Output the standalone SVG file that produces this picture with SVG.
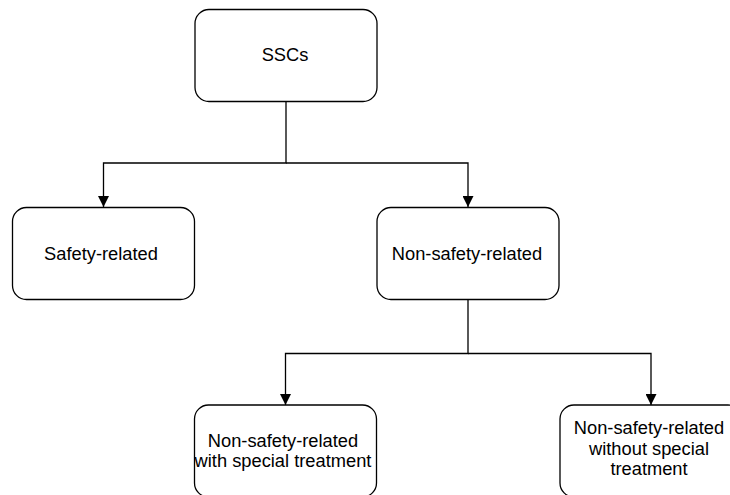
<svg xmlns="http://www.w3.org/2000/svg" width="730" height="495" viewBox="0 0 730 495">
<defs>
<style>
.box{fill:#fff;stroke:#000;stroke-width:1.3}
.lbl{font-family:"Liberation Sans",Arial,Helvetica,sans-serif;font-size:18.3px;fill:#000;text-anchor:middle}
.edge{fill:none;stroke:#000;stroke-width:1.3}
</style>
<marker id="arr" viewBox="0 0 10 10" refX="10" refY="5" markerWidth="11" markerHeight="11" markerUnits="userSpaceOnUse" orient="auto">
<path d="M0,0 L10,5 L0,10 Z" fill="#000"/>
</marker>
</defs>
<rect width="730" height="495" fill="#fff"/>
<g id="connectors">
<path class="edge" d="M286,101 V163 H103.5 V207" marker-end="url(#arr)"/>
<path class="edge" d="M286,163 H468 V207" marker-end="url(#arr)"/>
<path class="edge" d="M468,299.5 V353.5 H285.5 V405" marker-end="url(#arr)"/>
<path class="edge" d="M468,353.5 H651 V405" marker-end="url(#arr)"/>
</g>
<g id="ssc">
<rect class="box" x="195" y="9.5" width="182" height="92" rx="14"/>
<text class="lbl" x="285" y="61">SSCs</text>
</g>
<g id="safety">
<rect class="box" x="12.5" y="207.5" width="182" height="92" rx="14"/>
<text class="lbl" x="101" y="260">Safety-related</text>
</g>
<g id="nonsafety">
<rect class="box" x="377" y="207.5" width="182" height="92" rx="14"/>
<text class="lbl" x="467" y="260">Non-safety-related</text>
</g>
<g id="nsr-with">
<rect class="box" x="194.5" y="405" width="182" height="92" rx="14"/>
<text class="lbl" x="283" y="447">Non-safety-related</text>
<text class="lbl" x="283" y="467">with special treatment</text>
</g>
<g id="nsr-without">
<rect class="box" x="560" y="405" width="182" height="92" rx="14"/>
<text class="lbl" x="649" y="434">Non-safety-related</text>
<text class="lbl" x="649" y="455">without special</text>
<text class="lbl" x="649" y="475">treatment</text>
</g>
</svg>
